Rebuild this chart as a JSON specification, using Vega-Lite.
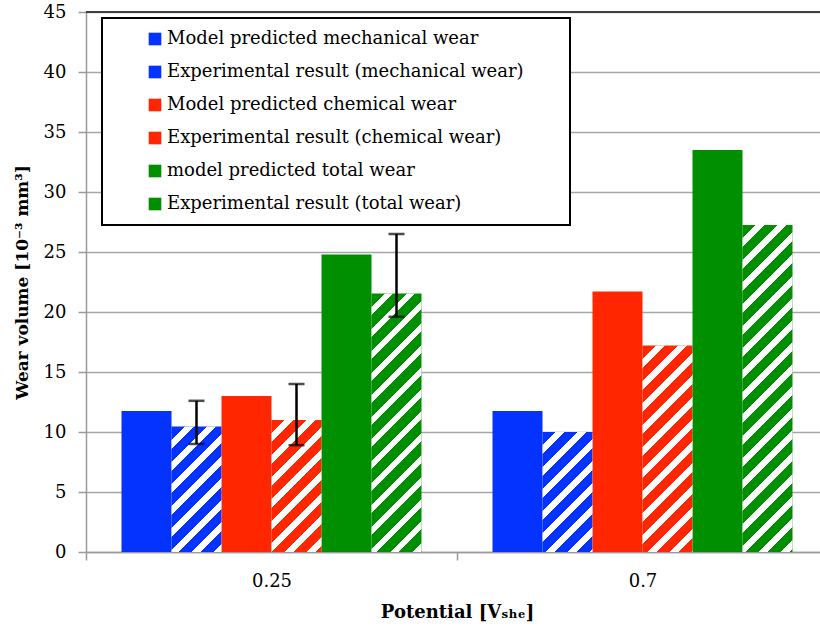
{
  "$schema": "https://vega.github.io/schema/vega-lite/v6.json",
  "width": 734,
  "height": 540,
  "autosize": {"type": "none"},
  "padding": {"left": 86, "top": 12, "right": 0, "bottom": 80},
  "background": "white",
  "config": {
    "view": {"stroke": null},
    "font": "DejaVu Serif",
    "legend": {"strokeWidth": 2},
    "axis": {
      "labelFont": "DejaVu Serif",
      "labelFontSize": 18,
      "labelColor": "black",
      "titleFont": "DejaVu Serif",
      "titleFontWeight": "bold",
      "titleFontSize": 17,
      "titleColor": "black",
      "domainColor": "#9a9a9a",
      "domainWidth": 1.5,
      "tickColor": "#9a9a9a",
      "tickWidth": 1.5,
      "tickSize": 8
    }
  },
  "datasets": {
    "wear": [
      {"group": "0.25", "series": "Model predicted mechanical wear", "kind": "model", "value": 11.75},
      {"group": "0.25", "series": "Experimental result (mechanical wear)", "kind": "exp", "value": 10.45, "err_lo": 9.0, "err_hi": 12.6},
      {"group": "0.25", "series": "Model predicted chemical wear", "kind": "model", "value": 13.0},
      {"group": "0.25", "series": "Experimental result (chemical wear)", "kind": "exp", "value": 11.0, "err_lo": 8.9, "err_hi": 14.0},
      {"group": "0.25", "series": "model predicted total wear", "kind": "model", "value": 24.8},
      {"group": "0.25", "series": "Experimental result (total wear)", "kind": "exp", "value": 21.55, "err_lo": 19.6, "err_hi": 26.5},
      {"group": "0.7", "series": "Model predicted mechanical wear", "kind": "model", "value": 11.75},
      {"group": "0.7", "series": "Experimental result (mechanical wear)", "kind": "exp", "value": 10.0},
      {"group": "0.7", "series": "Model predicted chemical wear", "kind": "model", "value": 21.7},
      {"group": "0.7", "series": "Experimental result (chemical wear)", "kind": "exp", "value": 17.2},
      {"group": "0.7", "series": "model predicted total wear", "kind": "model", "value": 33.5},
      {"group": "0.7", "series": "Experimental result (total wear)", "kind": "exp", "value": 27.25}
    ]
  },
  "layer": [
    {
      "data": {"name": "wear"},
      "encoding": {
        "x": {
          "field": "group",
          "type": "nominal",
          "sort": ["0.25", "0.7"],
          "scale": {"range": [0, 742], "paddingInner": 0, "paddingOuter": 0},
          "axis": {
            "title": "Potential [Vₛₕₑ]",
            "titleFontSize": 18,
            "labelAngle": 0,
            "tickBand": "extent",
            "labelPadding": 12,
            "titlePadding": 13,
            "grid": false
          }
        },
        "xOffset": {
          "field": "series",
          "type": "nominal",
          "scale": {
            "domain": [
              "Model predicted mechanical wear",
              "Experimental result (mechanical wear)",
              "Model predicted chemical wear",
              "Experimental result (chemical wear)",
              "model predicted total wear",
              "Experimental result (total wear)"
            ],
            "paddingInner": 0,
            "paddingOuter": 0.71
          }
        }
      },
      "layer": [
        {
          "mark": {"type": "bar"},
          "encoding": {
            "y": {
              "field": "value",
              "type": "quantitative",
              "scale": {"domain": [0, 45], "nice": false},
              "axis": {
                "title": "Wear volume [10⁻³ mm³]",
                "values": [0, 5, 10, 15, 20, 25, 30, 35, 40, 45],
                "format": "d",
                "labelPadding": 12,
                "titlePadding": 12,
                "grid": true,
                "gridColor": "#a6a6a6",
                "gridWidth": 1.5
              }
            },
            "color": {
              "field": "series",
              "type": "nominal",
              "scale": {
                "domain": [
                  "Model predicted mechanical wear",
                  "Experimental result (mechanical wear)",
                  "Model predicted chemical wear",
                  "Experimental result (chemical wear)",
                  "model predicted total wear",
                  "Experimental result (total wear)"
                ],
                "range": ["#0433FF", "#0433FF", "#FF2600", "#FF2600", "#008F00", "#008F00"]
              },
              "legend": {
                "title": "\u00a0",
                "titleOrient": "right",
                "titlePadding": 34,
                "titleFontSize": 18,
                "orient": "none",
                "legendX": 16,
                "legendY": 6,
                "padding": 12,
                "fillColor": "white",
                "strokeColor": "black",
                "symbolType": "square",
                "symbolSize": 160,
                "symbolStrokeWidth": 0,
                "symbolOffset": 32,
                "labelOffset": 3,
                "labelFont": "DejaVu Serif",
                "labelFontSize": 18,
                "labelColor": "black",
                "labelLimit": 600,
                "rowPadding": 15
              }
            }
          }
        },
        {
          "transform": [{"filter": "datum.kind === 'exp'"}],
          "mark": {
            "type": "bar",
            "fill": {
              "expr": "{gradient: 'linear', x1: 0, y1: 0, x2: 440 * bandwidth('xOffset') / (pow(bandwidth('xOffset'), 2) + pow(scale('y', 0) - scale('y', datum.value), 2)), y2: 440 * (scale('y', 0) - scale('y', datum.value)) / (pow(bandwidth('xOffset'), 2) + pow(scale('y', 0) - scale('y', datum.value), 2)), stops: [{offset: 0, color: 'transparent'}, {offset: 0.03, color: 'transparent'}, {offset: 0.03, color: 'white'}, {offset: 0.05, color: 'white'}, {offset: 0.05, color: 'transparent'}, {offset: 0.08, color: 'transparent'}, {offset: 0.08, color: 'white'}, {offset: 0.1, color: 'white'}, {offset: 0.1, color: 'transparent'}, {offset: 0.13, color: 'transparent'}, {offset: 0.13, color: 'white'}, {offset: 0.15, color: 'white'}, {offset: 0.15, color: 'transparent'}, {offset: 0.18, color: 'transparent'}, {offset: 0.18, color: 'white'}, {offset: 0.2, color: 'white'}, {offset: 0.2, color: 'transparent'}, {offset: 0.23, color: 'transparent'}, {offset: 0.23, color: 'white'}, {offset: 0.25, color: 'white'}, {offset: 0.25, color: 'transparent'}, {offset: 0.28, color: 'transparent'}, {offset: 0.28, color: 'white'}, {offset: 0.3, color: 'white'}, {offset: 0.3, color: 'transparent'}, {offset: 0.33, color: 'transparent'}, {offset: 0.33, color: 'white'}, {offset: 0.35, color: 'white'}, {offset: 0.35, color: 'transparent'}, {offset: 0.38, color: 'transparent'}, {offset: 0.38, color: 'white'}, {offset: 0.4, color: 'white'}, {offset: 0.4, color: 'transparent'}, {offset: 0.43, color: 'transparent'}, {offset: 0.43, color: 'white'}, {offset: 0.45, color: 'white'}, {offset: 0.45, color: 'transparent'}, {offset: 0.48, color: 'transparent'}, {offset: 0.48, color: 'white'}, {offset: 0.5, color: 'white'}, {offset: 0.5, color: 'transparent'}, {offset: 0.53, color: 'transparent'}, {offset: 0.53, color: 'white'}, {offset: 0.55, color: 'white'}, {offset: 0.55, color: 'transparent'}, {offset: 0.58, color: 'transparent'}, {offset: 0.58, color: 'white'}, {offset: 0.6, color: 'white'}, {offset: 0.6, color: 'transparent'}, {offset: 0.63, color: 'transparent'}, {offset: 0.63, color: 'white'}, {offset: 0.65, color: 'white'}, {offset: 0.65, color: 'transparent'}, {offset: 0.68, color: 'transparent'}, {offset: 0.68, color: 'white'}, {offset: 0.7, color: 'white'}, {offset: 0.7, color: 'transparent'}, {offset: 0.73, color: 'transparent'}, {offset: 0.73, color: 'white'}, {offset: 0.75, color: 'white'}, {offset: 0.75, color: 'transparent'}, {offset: 0.78, color: 'transparent'}, {offset: 0.78, color: 'white'}, {offset: 0.8, color: 'white'}, {offset: 0.8, color: 'transparent'}, {offset: 0.83, color: 'transparent'}, {offset: 0.83, color: 'white'}, {offset: 0.85, color: 'white'}, {offset: 0.85, color: 'transparent'}, {offset: 0.88, color: 'transparent'}, {offset: 0.88, color: 'white'}, {offset: 0.9, color: 'white'}, {offset: 0.9, color: 'transparent'}, {offset: 1, color: 'transparent'}]}"
            }
          },
          "encoding": {
            "y": {"field": "value", "type": "quantitative"}
          }
        },
        {
          "transform": [{"filter": "isValid(datum.err_lo)"}],
          "mark": {"type": "rule", "color": "black", "strokeWidth": 2.5},
          "encoding": {
            "y": {"field": "err_lo", "type": "quantitative"},
            "y2": {"field": "err_hi"}
          }
        },
        {
          "transform": [{"filter": "isValid(datum.err_lo)"}],
          "mark": {"type": "tick", "color": "black", "thickness": 2.5, "size": 16},
          "encoding": {
            "y": {"field": "err_lo", "type": "quantitative"}
          }
        },
        {
          "transform": [{"filter": "isValid(datum.err_hi)"}],
          "mark": {"type": "tick", "color": "black", "thickness": 2.5, "size": 16},
          "encoding": {
            "y": {"field": "err_hi", "type": "quantitative"}
          }
        }
      ]
    },
    {
      "data": {"values": [{}]},
      "mark": {"type": "rule", "color": "#404040", "strokeWidth": 2},
      "encoding": {"y": {"datum": 45}}
    }
  ]
}
